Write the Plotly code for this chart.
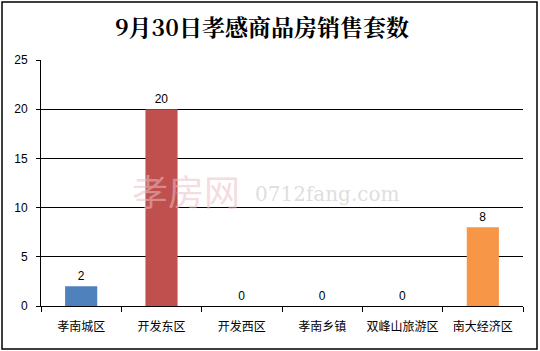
import plotly.graph_objects as go

categories = ["孝南城区", "开发东区", "开发西区", "孝南乡镇", "双峰山旅游区", "南大经济区"]
values = [2, 20, 0, 0, 0, 8]
colors = ["#4F81BD", "#C0504D", "#9BBB59", "#8064A2", "#4BACC6", "#F79646"]
y_ticks = [0, 5, 10, 15, 20, 25]
title_text = "9月30日孝感商品房销售套数"

fig = go.Figure(go.Bar(
    x=categories, y=values, marker=dict(color=colors, line=dict(width=0)),
    width=0.4, text=[str(v) for v in values], textposition="outside",
    textfont=dict(family="Liberation Sans, Arial", size=12, color="#000000"),
    cliponaxis=False,
))

L, R, T, B = 41, 17, 60, 45
W, H = 540, 351
pw, ph = W - L - R, H - T - B

def px(x):
    return (x - L) / pw

def py(y):
    return (H - B - y) / ph

fig.update_layout(
    width=W, height=H, margin=dict(l=L, r=R, t=T, b=B, autoexpand=False),
    paper_bgcolor="white", plot_bgcolor="white", showlegend=False,
    bargap=0.6,
    font=dict(family="Noto Sans CJK SC", color="#000000"),
    title=dict(text="<b>" + title_text + "</b>", x=0.485, xanchor="center",
               y=1 - 28 / H, yanchor="middle",
               font=dict(family="Noto Serif CJK SC, Noto Sans CJK SC", size=23, color="#000000")),
    xaxis=dict(showline=True, linecolor="#000000", linewidth=1, ticks="outside",
               tickson="boundaries", ticklen=5, tickcolor="#000000", tickangle=0,
               automargin=False, ticklabelstandoff=10,
               tickfont=dict(family="Noto Sans CJK SC", size=12, color="#000000"),
               showgrid=False, fixedrange=True),
    yaxis=dict(range=[0, 25], tickvals=y_ticks, showline=True, linecolor="#000000",
               linewidth=1, ticks="outside", ticklen=4, tickcolor="#000000",
               showgrid=True, gridcolor="#000000", gridwidth=1, zeroline=False,
               automargin=False,
               tickfont=dict(family="Liberation Sans, Arial", size=12, color="#000000"),
               ticklabelstandoff=6),
    shapes=[dict(type="rect", xref="paper", yref="paper",
                 x0=px(2), x1=px(537), y0=py(349), y1=py(2),
                 line=dict(color="#000000", width=1.5), layer="above")],
    annotations=[
        dict(text="孝房网", xref="paper", yref="paper", x=px(130), y=py(190),
             xanchor="left", yanchor="middle", showarrow=False,
             font=dict(family="Noto Sans CJK SC", size=36, color="rgba(235,190,195,0.55)")),
        dict(text="0712fang.com", xref="paper", yref="paper", x=px(253), y=py(194),
             xanchor="left", yanchor="middle", showarrow=False,
             font=dict(family="DejaVu Serif", size=20, color="rgba(200,200,200,0.6)")),
    ],
)

fig.write_html("out.html")
